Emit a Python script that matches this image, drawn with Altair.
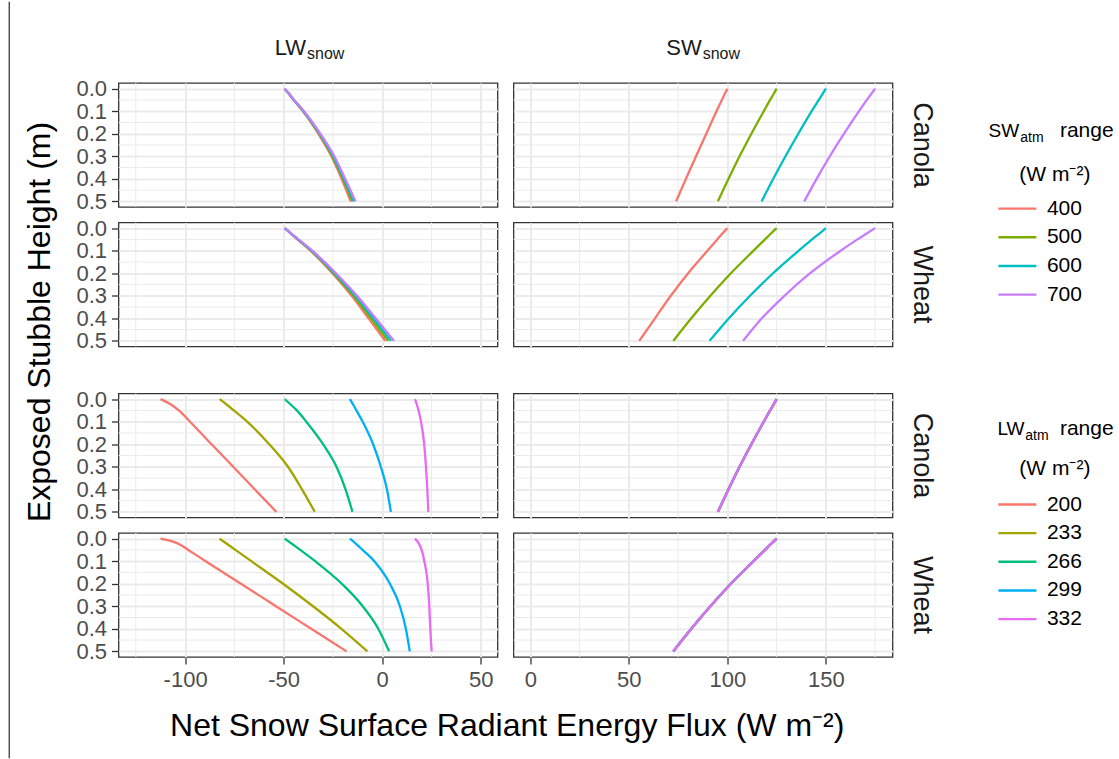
import altair as alt
import pandas as pd

FONT = "Liberation Sans"
GRID = "#EBEBEB"
FRAME = "#333333"

# ---------------- data ----------------
H = [0.0, 0.025, 0.05, 0.1, 0.2, 0.3, 0.4, 0.5]          # exposed stubble height (m)
H_TICKS = [0.0, 0.1, 0.2, 0.3, 0.4, 0.5]
H_MINOR = [0.05, 0.15, 0.25, 0.35, 0.45]

SW_LEVELS = [400, 500, 600, 700]
LW_LEVELS = [200, 233, 266, 299, 332]
SW_COLORS = ["#F8766D", "#7CAE00", "#00BFC4", "#C77CFF"]
LW_COLORS = ["#F8766D", "#A3A500", "#00BF7D", "#00B0F6", "#E76BF3"]

LEFT_DOMAIN = [-133.8, 58.5]
RIGHT_DOMAIN = [-8.5, 183.8]
LEFT_TICKS = [-100, -50, 0, 50]
LEFT_MINOR = [-125, -75, -25, 25]
RIGHT_TICKS = [0, 50, 100, 150]
RIGHT_MINOR = [25, 75, 125, 175]

# SW_atm group, LW_snow, Canola
SWG_LW_CANOLA_400 = [-49.5, -47.2, -45.0, -40.2, -32.4, -25.8, -20.6, -16.0]
SWG_LW_CANOLA_500 = [-49.5, -47.1, -44.9, -40.0, -32.0, -25.3, -19.9, -15.2]
SWG_LW_CANOLA_600 = [-49.5, -47.1, -44.8, -39.9, -31.7, -24.8, -19.4, -14.4]
SWG_LW_CANOLA_700 = [-49.5, -47.0, -44.7, -39.7, -31.4, -24.3, -18.8, -13.6]
# SW_atm group, LW_snow, Wheat
SWG_LW_WHEAT_400 = [-49.5, -46.2, -43.0, -36.4, -25.3, -15.5, -6.9, 1.5]
SWG_LW_WHEAT_500 = [-49.5, -46.1, -42.8, -36.1, -24.7, -14.6, -5.7, 3.0]
SWG_LW_WHEAT_600 = [-49.5, -46.1, -42.7, -35.8, -24.1, -13.7, -4.5, 4.5]
SWG_LW_WHEAT_700 = [-49.5, -46.0, -42.5, -35.5, -23.5, -12.8, -3.3, 6.0]
# SW_atm group, SW_snow, Canola
SWG_SW_CANOLA_400 = [100.0, 98.6, 97.2, 94.5, 89.3, 84.1, 79.0, 74.0]
SWG_SW_CANOLA_500 = [125.0, 123.4, 121.7, 118.5, 112.2, 106.2, 100.6, 95.2]
SWG_SW_CANOLA_600 = [150.0, 148.2, 146.4, 142.8, 136.0, 129.5, 123.3, 117.4]
SWG_SW_CANOLA_700 = [175.0, 172.9, 170.8, 166.8, 159.2, 152.0, 145.3, 139.0]
# SW_atm group, SW_snow, Wheat
SWG_SW_WHEAT_400 = [100.0, 97.4, 94.9, 89.9, 80.1, 71.3, 63.3, 55.3]
SWG_SW_WHEAT_500 = [125.0, 122.0, 119.1, 113.3, 101.8, 91.4, 81.7, 72.6]
SWG_SW_WHEAT_600 = [150.0, 146.5, 143.0, 136.2, 123.2, 111.5, 100.8, 91.0]
SWG_SW_WHEAT_700 = [175.0, 170.5, 166.0, 157.5, 142.0, 129.0, 117.5, 108.0]

# LW_atm group, LW_snow, Canola
LWG_LW_CANOLA_200 = [-112.5, -107.0, -103.2, -97.5, -86.6, -75.6, -64.7, -53.7]
LWG_LW_CANOLA_233 = [-82.5, -78.8, -75.3, -68.5, -57.3, -47.8, -40.7, -34.2]
LWG_LW_CANOLA_266 = [-49.5, -46.3, -43.3, -38.5, -30.0, -23.2, -18.6, -15.1]
LWG_LW_CANOLA_299 = [-16.4, -14.7, -13.1, -9.9, -4.6, -0.7, 2.4, 4.4]
LWG_LW_CANOLA_332 = [16.6, 17.6, 18.4, 19.7, 21.3, 22.2, 22.9, 23.4]
# LW_atm group, LW_snow, Wheat
LWG_LW_WHEAT_200 = [-112.5, -102.9, -98.4, -89.6, -71.7, -53.9, -36.0, -18.1]
LWG_LW_WHEAT_233 = [-82.5, -78.5, -74.5, -66.4, -50.3, -35.1, -20.7, -7.5]
LWG_LW_WHEAT_266 = [-49.5, -45.5, -41.6, -34.0, -20.5, -9.9, -2.0, 3.5]
LWG_LW_WHEAT_299 = [-16.4, -13.0, -10.0, -4.0, 3.9, 9.0, 12.0, 14.0]
LWG_LW_WHEAT_332 = [16.6, 18.8, 20.0, 21.4, 23.1, 23.9, 24.4, 25.1]
# LW_atm group, SW_snow (identical for every LW_atm level)
LWG_SW_CANOLA = [125.0, 123.4, 121.7, 118.5, 112.2, 106.2, 100.6, 95.2]
LWG_SW_WHEAT = [125.0, 122.0, 119.1, 113.3, 101.8, 91.4, 81.7, 72.6]


def make_df(levels, arrays):
    rows = []
    for lvl, arr in zip(levels, arrays):
        for h, v in zip(H, arr):
            rows.append({"level": lvl, "h": h, "flux": v})
    return pd.DataFrame(rows)


def label(text, x, y, size, color="black", align="center", baseline="alphabetic", angle=0):
    return alt.Chart(pd.DataFrame({"t": [text]})).mark_text(
        align=align, baseline=baseline, fontSize=size, font=FONT, color=color, angle=angle
    ).encode(text="t:N", x=alt.value(x), y=alt.value(y))


PW, PH = 379, 124
LEGW = 200
LX = 44.4  # legend column origin is 44.4 px left of the legend block
TICK_FS = 22


def panel(df, levels, colors, xdom, xticks, xminor, left, bottom, extras=()):
    xscale = alt.Scale(domain=xdom, nice=False, zero=False)
    yscale = alt.Scale(domain=[-0.025, 0.525], nice=False, zero=False, reverse=True)
    xaxis = alt.Axis(values=xticks, grid=True, gridColor=GRID, gridWidth=2, domain=False,
                     labels=bottom, ticks=bottom, tickColor=FRAME, tickWidth=1.3, tickSize=7,
                     labelFont=FONT, labelFontSize=TICK_FS, labelColor="#4D4D4D", labelPadding=5,
                     labelOverlap=False, labelExpr="datum.value + ''", title=None)
    yaxis = alt.Axis(values=H_TICKS, format=".1f", grid=True, gridColor=GRID, gridWidth=2,
                     domain=False, labels=left, ticks=left, tickColor=FRAME, tickWidth=1.3,
                     tickSize=7, labelFont=FONT, labelFontSize=TICK_FS, labelColor="#4D4D4D",
                     labelPadding=5, labelOverlap=False, labelBaseline="middle", title=None)
    xminor_layer = alt.Chart(pd.DataFrame({"flux": xminor})).mark_rule(
        color=GRID, strokeWidth=1).encode(x=alt.X("flux:Q", scale=xscale, axis=xaxis))
    yminor_layer = alt.Chart(pd.DataFrame({"h": H_MINOR})).mark_rule(
        color=GRID, strokeWidth=1).encode(y=alt.Y("h:Q", scale=yscale, axis=yaxis))
    lines = alt.Chart(df).mark_line(strokeWidth=2.3, interpolate="monotone").encode(
        x=alt.X("flux:Q", scale=xscale, axis=xaxis),
        y=alt.Y("h:Q", scale=yscale, axis=yaxis),
        color=alt.Color("level:N", scale=alt.Scale(domain=levels, range=colors), legend=None),
        order=alt.Order("flux:Q"),
    )
    return alt.layer(xminor_layer, yminor_layer, lines, *extras).properties(
        width=PW, height=PH,
        view=alt.ViewBackground(stroke=FRAME, strokeWidth=1.3, fill="white"),
    )


def legend(levels, colors, ypos, main, main_x, main_y, sub_x, range_x, unit_y):
    df = pd.DataFrame({"level": levels})
    y = alt.Y("level:N", sort=levels,
              scale=alt.Scale(type="point", domain=levels, range=ypos, padding=0), axis=None)
    color = alt.Color("level:N", scale=alt.Scale(domain=levels, range=colors), legend=None)
    keys = alt.Chart(df).mark_rule(strokeWidth=2.4).encode(
        y=y, color=color, x=alt.value(LX + 45.5), x2=alt.value(LX + 83.5))
    texts = alt.Chart(df).mark_text(align="left", baseline="middle", fontSize=21, font=FONT,
                                    color="black").encode(y=y, text="level:N", x=alt.value(LX + 94))
    return alt.layer(
        keys, texts,
        label(main, LX + main_x, main_y, 19, align="right"),
        label("atm", LX + sub_x, main_y + 5, 14, align="left"),
        label("range", LX + range_x, main_y, 21, align="left"),
        label("(W m\u207b\u00b2)", LX + 102, unit_y, 21, baseline="middle"),
    ).properties(width=LEGW, height=PH, view=alt.ViewBackground(stroke=None))


def blank(w, h):
    return alt.Chart(pd.DataFrame({"a": [0]})).mark_text(text=" ", opacity=0).encode(
        x=alt.value(0), y=alt.value(0)
    ).properties(width=w, height=h, view=alt.ViewBackground(stroke=None))


# ---------------- panels ----------------
df_swg_lw_c = make_df(SW_LEVELS, [SWG_LW_CANOLA_400, SWG_LW_CANOLA_500, SWG_LW_CANOLA_600, SWG_LW_CANOLA_700])
df_swg_lw_w = make_df(SW_LEVELS, [SWG_LW_WHEAT_400, SWG_LW_WHEAT_500, SWG_LW_WHEAT_600, SWG_LW_WHEAT_700])
df_swg_sw_c = make_df(SW_LEVELS, [SWG_SW_CANOLA_400, SWG_SW_CANOLA_500, SWG_SW_CANOLA_600, SWG_SW_CANOLA_700])
df_swg_sw_w = make_df(SW_LEVELS, [SWG_SW_WHEAT_400, SWG_SW_WHEAT_500, SWG_SW_WHEAT_600, SWG_SW_WHEAT_700])
df_lwg_lw_c = make_df(LW_LEVELS, [LWG_LW_CANOLA_200, LWG_LW_CANOLA_233, LWG_LW_CANOLA_266, LWG_LW_CANOLA_299, LWG_LW_CANOLA_332])
df_lwg_lw_w = make_df(LW_LEVELS, [LWG_LW_WHEAT_200, LWG_LW_WHEAT_233, LWG_LW_WHEAT_266, LWG_LW_WHEAT_299, LWG_LW_WHEAT_332])
df_lwg_sw_c = make_df(LW_LEVELS, [LWG_SW_CANOLA] * len(LW_LEVELS))
df_lwg_sw_w = make_df(LW_LEVELS, [LWG_SW_WHEAT] * len(LW_LEVELS))

edge_rule = alt.Chart(pd.DataFrame({"a": [0]})).mark_rule(color="black", strokeWidth=1).encode(
    x=alt.value(-109.3), y=alt.value(-81.2), y2=alt.value(675.3))

STRIP = "#1A1A1A"
p11 = panel(df_swg_lw_c, SW_LEVELS, SW_COLORS, LEFT_DOMAIN, LEFT_TICKS, LEFT_MINOR, True, False, extras=(
    edge_rule,
    label("LW", 187.5, -28.5, 22, color=STRIP, align="right"),
    label("snow", 188.5, -24, 16, color=STRIP, align="left"),
    label("Exposed Stubble Height (m)", -68.8, 239, 32, angle=270),
))
p12 = panel(df_swg_sw_c, SW_LEVELS, SW_COLORS, RIGHT_DOMAIN, RIGHT_TICKS, RIGHT_MINOR, False, False, extras=(
    label("SW", 188.2, -28.5, 22, color=STRIP, align="right"),
    label("snow", 189.2, -24, 16, color=STRIP, align="left"),
    label("Canola", 408.7, 62, 27, color=STRIP, baseline="middle", angle=90),
))
p21 = panel(df_swg_lw_w, SW_LEVELS, SW_COLORS, LEFT_DOMAIN, LEFT_TICKS, LEFT_MINOR, True, False)
p22 = panel(df_swg_sw_w, SW_LEVELS, SW_COLORS, RIGHT_DOMAIN, RIGHT_TICKS, RIGHT_MINOR, False, False, extras=(
    label("Wheat", 408.7, 62, 27, color=STRIP, baseline="middle", angle=90),
))
p31 = panel(df_lwg_lw_c, LW_LEVELS, LW_COLORS, LEFT_DOMAIN, LEFT_TICKS, LEFT_MINOR, True, False)
p32 = panel(df_lwg_sw_c, LW_LEVELS, LW_COLORS, RIGHT_DOMAIN, RIGHT_TICKS, RIGHT_MINOR, False, False, extras=(
    label("Canola", 408.7, 62, 27, color=STRIP, baseline="middle", angle=90),
))
p41 = panel(df_lwg_lw_w, LW_LEVELS, LW_COLORS, LEFT_DOMAIN, LEFT_TICKS, LEFT_MINOR, True, True, extras=(
    label("Net Snow Surface Radiant Energy Flux (W m\u207b\u00b2)", 388.7, 203.3, 32),
))
p42 = panel(df_lwg_sw_w, LW_LEVELS, LW_COLORS, RIGHT_DOMAIN, RIGHT_TICKS, RIGHT_MINOR, False, True, extras=(
    label("Wheat", 408.7, 62, 27, color=STRIP, baseline="middle", angle=90),
))

leg_sw = legend(SW_LEVELS, SW_COLORS, [125.6, 211.6], "SW", 66.3, 54, 67.3, 107, 92.3)
leg_lw = legend(LW_LEVELS, LW_COLORS, [111.0, 225.6], "LW", 71.6, 41.6, 72.3, 107, 75)

cells = [
    p11, p12, leg_sw,
    p21, p22, blank(LEGW, PH),
    blank(PW, 15.5), blank(PW, 15.5), blank(LEGW, 15.5),
    p31, p32, leg_lw,
    p41, p42, blank(LEGW, PH),
]

chart = alt.concat(
    *cells, columns=3, spacing={"row": 15.5, "column": 16}, bounds="flush", align="each"
).resolve_scale(
    x="independent", y="independent", color="independent"
).properties(
    padding={"left": 7.5, "top": 0, "right": 0, "bottom": 0},
    background="white",
).configure_view(stroke=None)

chart.save("out.html", embed_options={"renderer": "svg", "actions": False})
